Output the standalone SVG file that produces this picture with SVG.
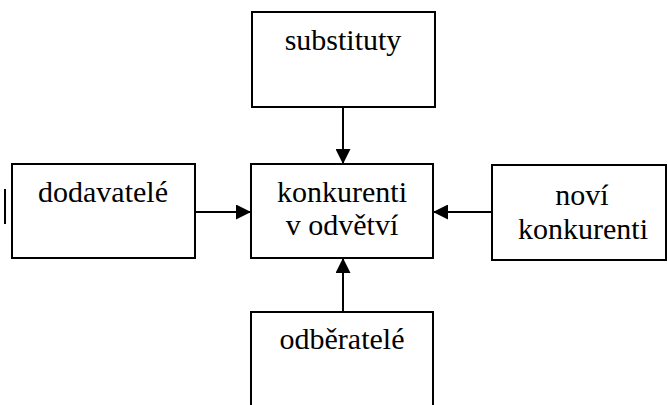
<svg xmlns="http://www.w3.org/2000/svg" width="668" height="405" viewBox="0 0 668 405">
  <defs>
    <marker id="arrow" viewBox="0 0 10 10" refX="10" refY="5" markerWidth="15" markerHeight="15" markerUnits="userSpaceOnUse" orient="auto">
      <path d="M0,0 L10,5 L0,10 Z" fill="#000000"/>
    </marker>
  </defs>
  <rect width="668" height="405" fill="#ffffff"/>

  <!-- arrows into the central box -->
  <g id="connectors" stroke="#000000" stroke-width="2" fill="none" marker-end="url(#arrow)">
    <line x1="343" y1="107" x2="343" y2="164"/>
    <line x1="195" y1="212" x2="251" y2="212"/>
    <line x1="492" y1="212" x2="433" y2="212"/>
    <line x1="343" y1="312" x2="343" y2="258"/>
  </g>

  <g id="substituty">
    <rect x="252" y="12" width="183" height="95" fill="#ffffff" stroke="#000000" stroke-width="2"/>
    <text x="343" y="50" font-family="Liberation Serif" font-size="30" text-anchor="middle">substituty</text>
  </g>

  <g id="dodavatele">
    <line x1="5" y1="189" x2="5" y2="224" stroke="#000000" stroke-width="2"/>
    <rect x="12" y="164" width="183" height="94" fill="#ffffff" stroke="#000000" stroke-width="2"/>
    <text x="103" y="202" font-family="Liberation Serif" font-size="30" text-anchor="middle">dodavatel&#233;</text>
  </g>

  <g id="konkurenti">
    <rect x="251" y="164" width="182" height="94" fill="#ffffff" stroke="#000000" stroke-width="2"/>
    <text x="342" y="202" font-family="Liberation Serif" font-size="30" text-anchor="middle">konkurenti</text>
    <text x="342" y="235" font-family="Liberation Serif" font-size="30" text-anchor="middle">v odv&#283;tv&#237;</text>
  </g>

  <g id="novi-konkurenti">
    <rect x="492" y="165" width="174" height="95" fill="#ffffff" stroke="#000000" stroke-width="2"/>
    <text x="582" y="205" font-family="Liberation Serif" font-size="30" text-anchor="middle">nov&#237;</text>
    <text x="583" y="239" font-family="Liberation Serif" font-size="30" text-anchor="middle">konkurenti</text>
  </g>

  <g id="odberatele">
    <rect x="251" y="312" width="182" height="100" fill="#ffffff" stroke="#000000" stroke-width="2"/>
    <text x="342" y="349" font-family="Liberation Serif" font-size="30" text-anchor="middle">odb&#283;ratel&#233;</text>
  </g>
</svg>
